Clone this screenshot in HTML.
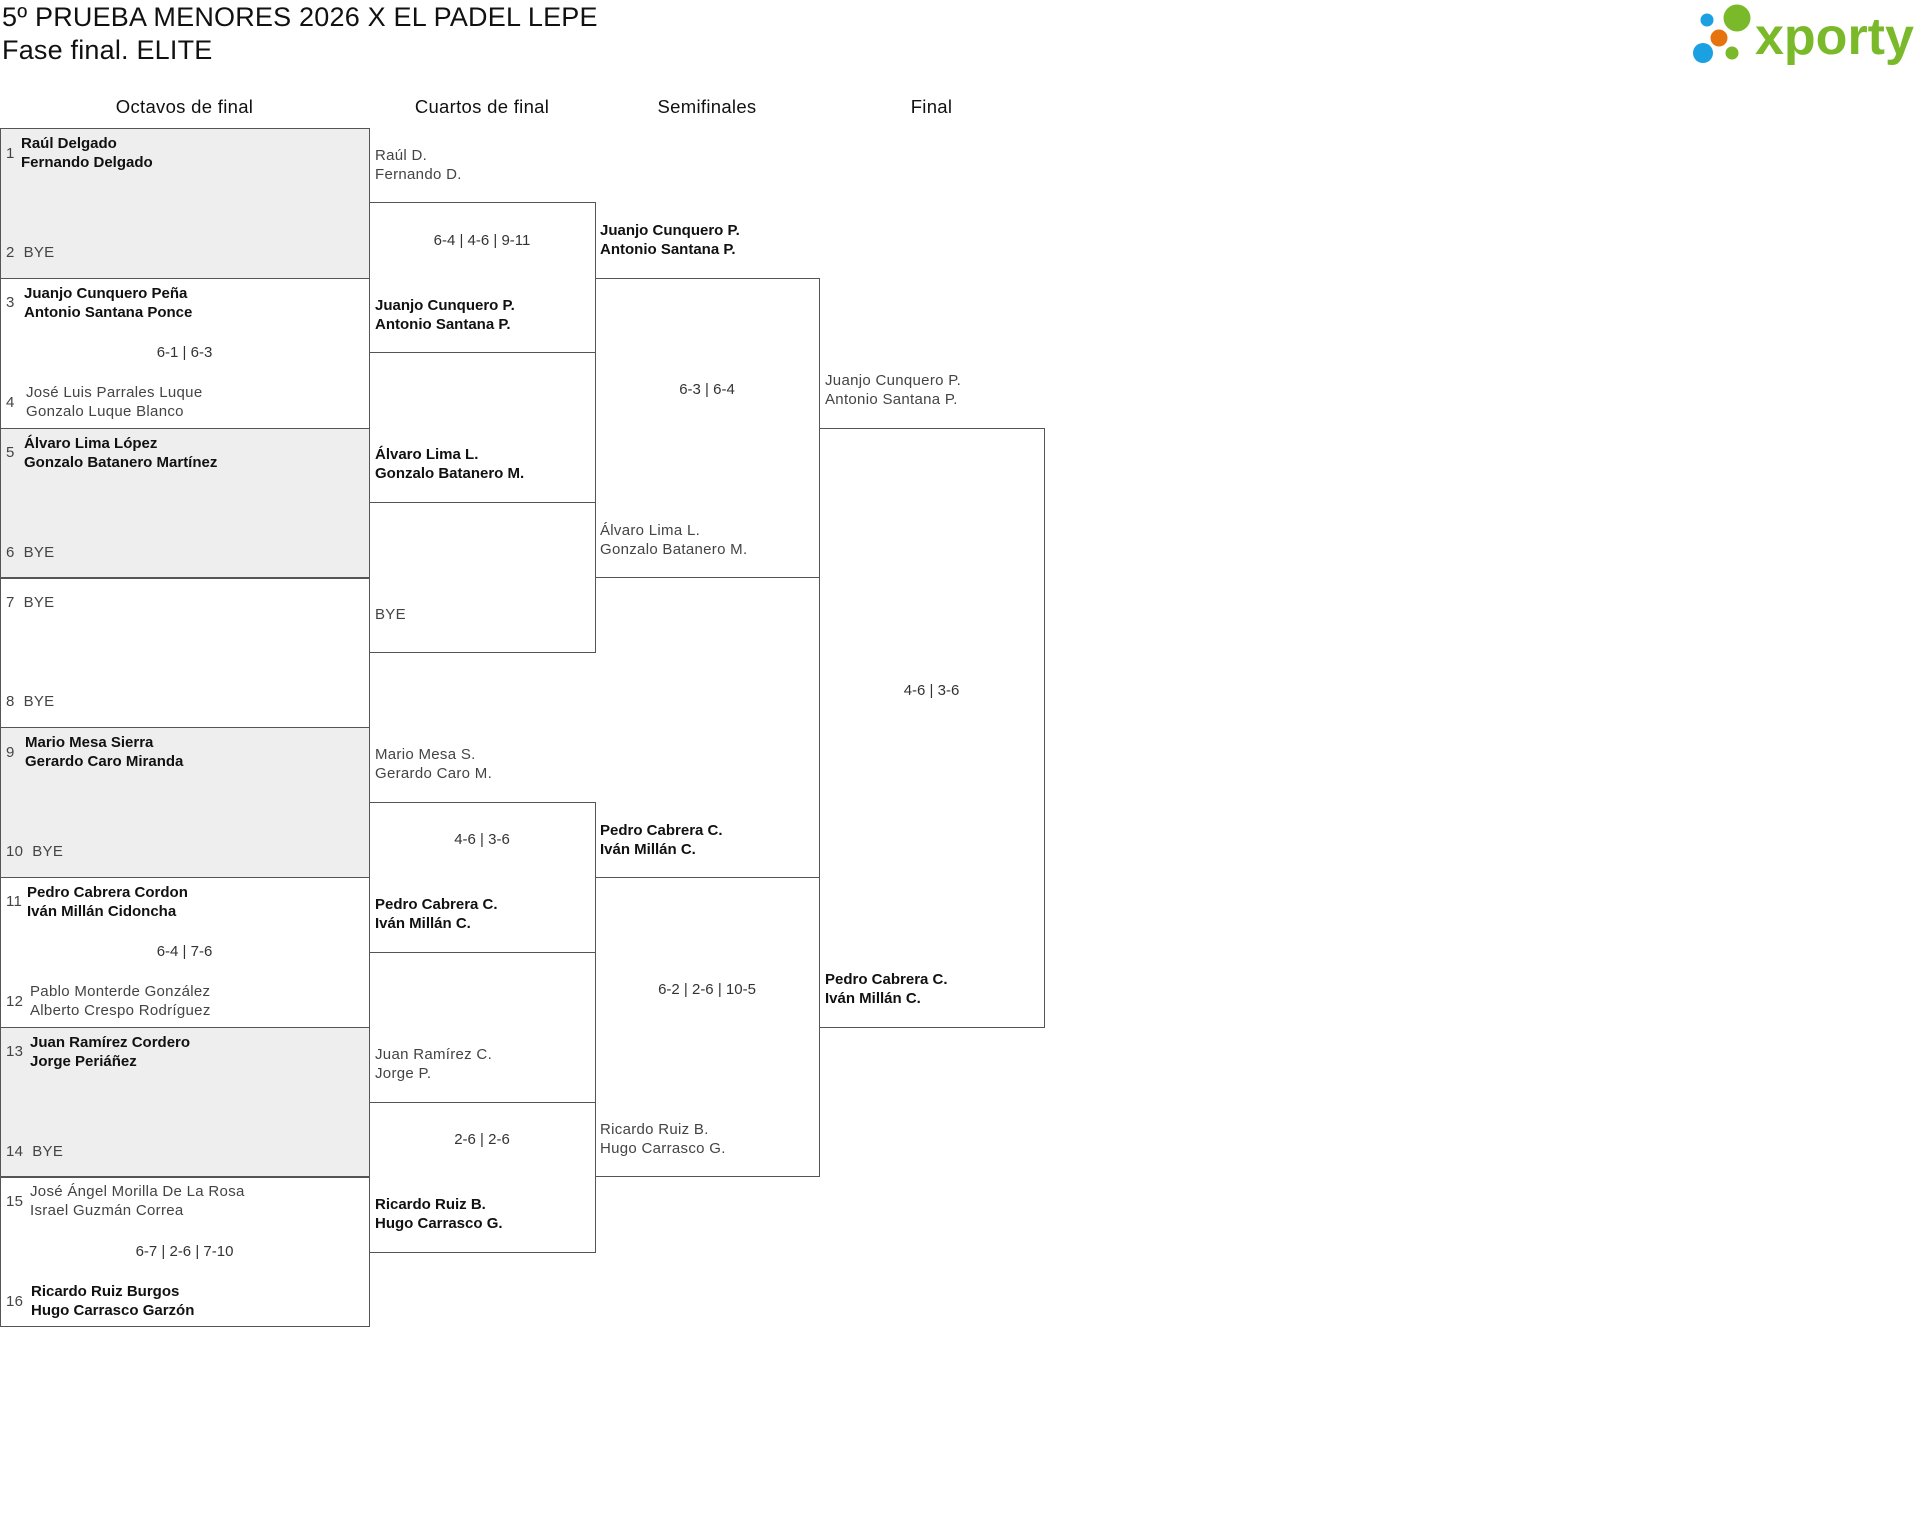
<!DOCTYPE html>
<html><head><meta charset="utf-8"><style>
*{margin:0;padding:0;box-sizing:border-box}
body{width:1920px;height:1525px;background:#fff;position:relative;overflow:hidden;font-family:"Liberation Sans",sans-serif;color:#222}
.a{position:absolute;white-space:nowrap}
.box{position:absolute;border:1px solid #555}
.g{background:#eee}
.t{position:absolute;font-size:15px;line-height:19px;white-space:nowrap;color:#444;letter-spacing:0.3px}
.b{font-weight:bold;color:#111;letter-spacing:0}
.h{position:absolute;font-size:18.5px;text-align:center;top:96px;color:#111;letter-spacing:0.3px}
.s{position:absolute;font-size:15px;line-height:19px;text-align:center;color:#333}
</style></head><body>
<div class="a" style="left:2px;top:2px;font-size:27px;line-height:30px;color:#111;letter-spacing:0.2px">5º PRUEBA MENORES 2026 X EL PADEL LEPE</div>
<div class="a" style="left:2px;top:35px;font-size:27px;line-height:30px;color:#111;letter-spacing:0.2px">Fase final. ELITE</div>

<svg style="position:absolute;left:1690px;top:0" width="230" height="70">
<circle cx="17" cy="20" r="6.5" fill="#1ba1e2"/>
<circle cx="47" cy="18" r="13.5" fill="#7ab929"/>
<circle cx="29" cy="38" r="8.5" fill="#e5730e"/>
<circle cx="13" cy="53" r="10" fill="#1ba1e2"/>
<circle cx="42" cy="53" r="6.5" fill="#7ab929"/>
</svg>
<div class="a" style="left:1755px;top:7px;font-size:52px;line-height:60px;font-weight:bold;color:#7ab929">xporty</div>

<div class="h" style="left:0;width:369px">Octavos de final</div>
<div class="h" style="left:369px;width:226px">Cuartos de final</div>
<div class="h" style="left:595px;width:224px">Semifinales</div>
<div class="h" style="left:819px;width:225px">Final</div>

<div class="box g" style="left:0;top:128px;width:370px;height:151px"></div>
<div class="box" style="left:0;top:278px;width:370px;height:151px"></div>
<div class="box g" style="left:0;top:428px;width:370px;height:151px"></div>
<div class="box" style="left:0;top:577px;width:370px;height:151px"></div>
<div class="box g" style="left:0;top:727px;width:370px;height:151px"></div>
<div class="box" style="left:0;top:877px;width:370px;height:151px"></div>
<div class="box g" style="left:0;top:1027px;width:370px;height:151px"></div>
<div class="box" style="left:0;top:1176px;width:370px;height:151px"></div>

<div class="box" style="left:369px;top:202px;width:227px;height:151px"></div>
<div class="box" style="left:369px;top:502px;width:227px;height:151px"></div>
<div class="box" style="left:369px;top:802px;width:227px;height:151px"></div>
<div class="box" style="left:369px;top:1102px;width:227px;height:151px"></div>
<div class="box" style="left:595px;top:278px;width:225px;height:300px"></div>
<div class="box" style="left:595px;top:877px;width:225px;height:300px"></div>
<div class="box" style="left:819px;top:428px;width:226px;height:600px"></div>

<div class="t" style="left:6px;top:144px">1</div>
<div class="t b" style="left:21px;top:134px">Raúl Delgado<br>Fernando Delgado</div>
<div class="t" style="left:6px;top:243px">2&nbsp;&nbsp;BYE</div>
<div class="t" style="left:6px;top:293px">3</div>
<div class="t b" style="left:24px;top:284px">Juanjo Cunquero Peña<br>Antonio Santana Ponce</div>
<div class="s" style="left:0;width:369px;top:343px">6-1 | 6-3</div>
<div class="t" style="left:6px;top:393px">4</div>
<div class="t" style="left:26px;top:383px">José Luis Parrales Luque<br>Gonzalo Luque Blanco</div>
<div class="t" style="left:6px;top:443px">5</div>
<div class="t b" style="left:24px;top:434px">Álvaro Lima López<br>Gonzalo Batanero Martínez</div>
<div class="t" style="left:6px;top:543px">6&nbsp;&nbsp;BYE</div>
<div class="t" style="left:6px;top:593px">7&nbsp;&nbsp;BYE</div>
<div class="t" style="left:6px;top:692px">8&nbsp;&nbsp;BYE</div>
<div class="t" style="left:6px;top:743px">9</div>
<div class="t b" style="left:25px;top:733px">Mario Mesa Sierra<br>Gerardo Caro Miranda</div>
<div class="t" style="left:6px;top:842px">10&nbsp;&nbsp;BYE</div>
<div class="t" style="left:6px;top:892px">11</div>
<div class="t b" style="left:27px;top:883px">Pedro Cabrera Cordon<br>Iván Millán Cidoncha</div>
<div class="s" style="left:0;width:369px;top:942px">6-4 | 7-6</div>
<div class="t" style="left:6px;top:992px">12</div>
<div class="t" style="left:30px;top:982px">Pablo Monterde González<br>Alberto Crespo Rodríguez</div>
<div class="t" style="left:6px;top:1042px">13</div>
<div class="t b" style="left:30px;top:1033px">Juan Ramírez Cordero<br>Jorge Periáñez</div>
<div class="t" style="left:6px;top:1142px">14&nbsp;&nbsp;BYE</div>
<div class="t" style="left:6px;top:1192px">15</div>
<div class="t" style="left:30px;top:1182px">José Ángel Morilla De La Rosa<br>Israel Guzmán Correa</div>
<div class="s" style="left:0;width:369px;top:1242px">6-7 | 2-6 | 7-10</div>
<div class="t" style="left:6px;top:1292px">16</div>
<div class="t b" style="left:31px;top:1282px">Ricardo Ruiz Burgos<br>Hugo Carrasco Garzón</div>

<div class="t" style="left:375px;top:146px">Raúl D.<br>Fernando D.</div>
<div class="s" style="left:369px;width:226px;top:231px">6-4 | 4-6 | 9-11</div>
<div class="t b" style="left:375px;top:296px">Juanjo Cunquero P.<br>Antonio Santana P.</div>
<div class="t b" style="left:375px;top:445px">Álvaro Lima L.<br>Gonzalo Batanero M.</div>
<div class="t" style="left:375px;top:605px">BYE</div>
<div class="t" style="left:375px;top:745px">Mario Mesa S.<br>Gerardo Caro M.</div>
<div class="s" style="left:369px;width:226px;top:830px">4-6 | 3-6</div>
<div class="t b" style="left:375px;top:895px">Pedro Cabrera C.<br>Iván Millán C.</div>
<div class="t" style="left:375px;top:1045px">Juan Ramírez C.<br>Jorge P.</div>
<div class="s" style="left:369px;width:226px;top:1130px">2-6 | 2-6</div>
<div class="t b" style="left:375px;top:1195px">Ricardo Ruiz B.<br>Hugo Carrasco G.</div>

<div class="t b" style="left:600px;top:221px">Juanjo Cunquero P.<br>Antonio Santana P.</div>
<div class="s" style="left:595px;width:224px;top:380px">6-3 | 6-4</div>
<div class="t" style="left:600px;top:521px">Álvaro Lima L.<br>Gonzalo Batanero M.</div>
<div class="t b" style="left:600px;top:821px">Pedro Cabrera C.<br>Iván Millán C.</div>
<div class="s" style="left:595px;width:224px;top:980px">6-2 | 2-6 | 10-5</div>
<div class="t" style="left:600px;top:1120px">Ricardo Ruiz B.<br>Hugo Carrasco G.</div>

<div class="t" style="left:825px;top:371px">Juanjo Cunquero P.<br>Antonio Santana P.</div>
<div class="s" style="left:819px;width:225px;top:681px">4-6 | 3-6</div>
<div class="t b" style="left:825px;top:970px">Pedro Cabrera C.<br>Iván Millán C.</div>
</body></html>
